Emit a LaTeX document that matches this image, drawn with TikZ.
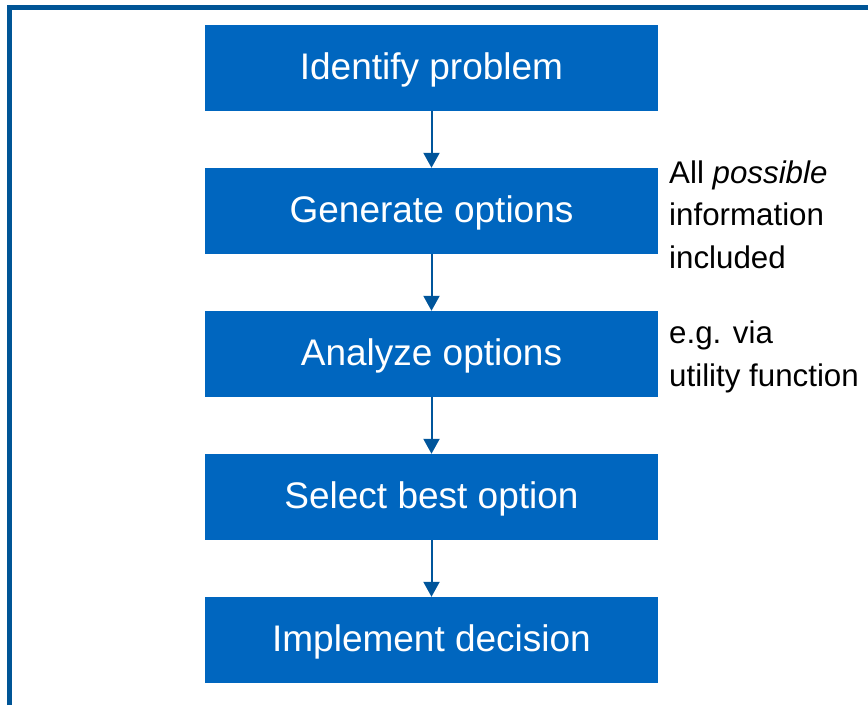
\documentclass[tikz,border=0pt]{standalone}
\usepackage{fontspec}
\setmainfont{Liberation Sans}
\usetikzlibrary{arrows.meta}
\definecolor{framecol}{RGB}{0,85,150}
\definecolor{boxcol}{RGB}{0,102,191}
\definecolor{arrowcol}{RGB}{0,85,155}
\tikzset{
  x=1pt, y=-1pt,
  stepbox/.style={fill=boxcol, draw=none, minimum width=453pt, minimum height=86pt,
    inner sep=0pt},
  steptext/.style={anchor=base, inner sep=0pt, text=white,
    font=\fontsize{37}{44}\selectfont},
  flow/.style={draw=arrowcol, line width=2pt, -{Triangle[length=15pt,width=16pt]}},
  note/.style={anchor=base west, inner sep=0pt, align=left, text=black,
    font=\fontsize{31.3}{42.5}\selectfont}
}
\begin{document}
\begin{tikzpicture}
\useasboundingbox (0,0) rectangle (868,705);
% outer frame: only the top and left edges are visible
\draw[framecol, line width=5pt] (9.5,705) -- (9.5,7.5) -- (868,7.5);

% process steps
\node[stepbox] (s1) at (431.5,68) {};
\node[stepbox] (s2) at (431.5,211) {};
\node[stepbox] (s3) at (431.5,354) {};
\node[stepbox] (s4) at (431.5,497) {};
\node[stepbox] (s5) at (431.5,640) {};

\node[steptext] (t1) at (431.5,79) {Identify problem};
\node[steptext] (t2) at (431.5,222) {Generate options};
\node[steptext] (t3) at (431.5,365) {Analyze options};
\node[steptext] (t4) at (431.5,508) {Select best option};
\node[steptext] (t5) at (431.5,651) {Implement decision};

% connectors
\draw[flow] (s1.south) -- (s2.north);
\draw[flow] (s2.south) -- (s3.north);
\draw[flow] (s3.south) -- (s4.north);
\draw[flow] (s4.south) -- (s5.north);

% side notes (anchored at the baseline of their last line)
\node[note] (n1) at (669,268) {All \textit{possible}\\information\\included};
\node[note] (n2) at (669,386) {e.g. via\\utility function};
\end{tikzpicture}
\end{document}
